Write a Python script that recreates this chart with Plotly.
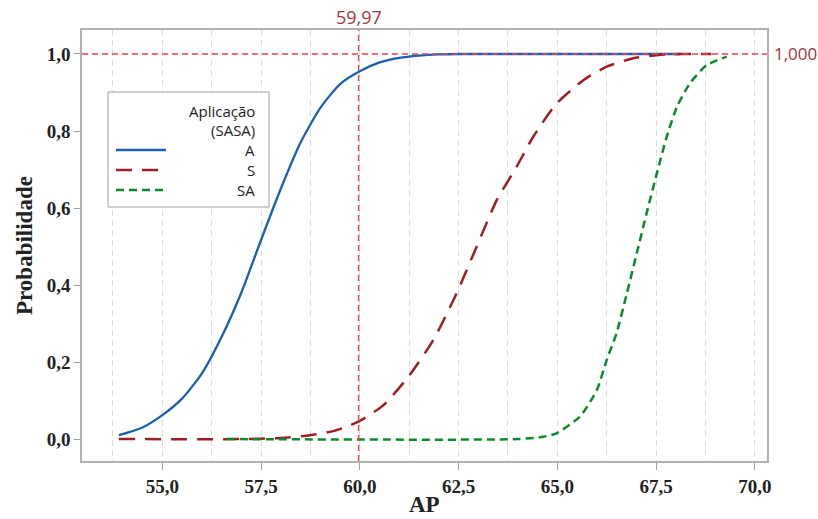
import plotly.graph_objects as go

# ---- data ----
a_x = [53.9, 54.5, 55.0, 55.5, 56.0, 56.5, 57.0, 57.5, 58.0, 58.5, 59.0, 59.5, 60.0, 60.5, 61.0, 61.5, 62.0, 62.5, 68.1]
a_y = [0.010, 0.030, 0.062, 0.105, 0.170, 0.265, 0.380, 0.517, 0.650, 0.770, 0.860, 0.922, 0.955, 0.978, 0.990, 0.996, 0.999, 1.000, 1.000]

s_x = [53.9, 57.0, 58.0, 58.74, 59.3, 59.67, 60.0, 60.6, 61.23, 61.86, 62.45, 62.96, 63.47, 63.97, 64.39, 64.98, 65.66, 66.25, 66.92, 67.52, 68.1, 68.9]
s_y = [0.000, 0.000, 0.003, 0.010, 0.020, 0.032, 0.047, 0.088, 0.162, 0.257, 0.378, 0.500, 0.621, 0.707, 0.785, 0.871, 0.932, 0.967, 0.989, 0.997, 1.000, 1.000]

sa_x = [56.63, 64.0, 64.65, 64.98, 65.57, 66.0, 66.25, 66.5, 66.76, 67.01, 67.26, 67.52, 67.77, 68.03, 68.36, 68.78, 69.29]
sa_y = [0.000, 0.000, 0.006, 0.015, 0.058, 0.127, 0.205, 0.275, 0.378, 0.482, 0.586, 0.690, 0.785, 0.863, 0.924, 0.971, 0.993]

series_names = ["A", "S", "SA"]
legend_title = ["Aplicação", "(SASA)"]
x_title = "AP"
y_title = "Probabilidade"
ref_x = 59.97
ref_y = 1.0
ref_x_label = "59,97"
ref_y_label = "1,000"
x_ticks = [55.0, 57.5, 60.0, 62.5, 65.0, 67.5, 70.0]
y_ticks = [0.0, 0.2, 0.4, 0.6, 0.8, 1.0]

blue = "#1a5fb4"
red = "#a01e22"
green = "#0b8a2c"
refc = "#e0474f"
labc = "#a8343a"

fig = go.Figure()
fig.add_trace(go.Scatter(x=a_x, y=a_y, mode="lines", name=series_names[0], showlegend=False,
                         line=dict(color=blue, width=2.3, shape="spline", smoothing=0.6)))
fig.add_trace(go.Scatter(x=s_x, y=s_y, mode="lines", name=series_names[1], showlegend=False,
                         line=dict(color=red, width=2.5, dash="16px,10px", shape="spline", smoothing=0.6)))
fig.add_trace(go.Scatter(x=sa_x, y=sa_y, mode="lines", name=series_names[2], showlegend=False,
                         line=dict(color=green, width=2.5, dash="8px,5px", shape="spline", smoothing=0.6)))

# reference lines
fig.add_shape(type="line", xref="x", yref="paper", x0=ref_x, x1=ref_x, y0=0, y1=1,
              line=dict(color=refc, width=1.5, dash="6px,4px"))
fig.add_shape(type="line", xref="paper", yref="y", x0=0, x1=1, y0=ref_y, y1=ref_y,
              line=dict(color=refc, width=1.5, dash="6px,4px"))
fig.add_annotation(x=ref_x, xref="x", y=1, yref="paper", yanchor="bottom", text=ref_x_label,
                   showarrow=False, font=dict(family="Open Sans", size=18, color=labc), yshift=-1)
fig.add_annotation(x=1, xref="paper", y=ref_y, yref="y", xanchor="left", text=ref_y_label,
                   showarrow=False, font=dict(family="Open Sans", size=17, color=labc), xshift=5)

# manual legend (paper coords)
W, H = 818, 519
ml, mr, mt, mb = 82, 51, 30, 58
pw, ph = W - ml - mr, H - mt - mb
def px(xp): return (xp - ml) / pw
def py(yp): return 1 - (yp - mt) / ph

fig.add_shape(type="rect", xref="paper", yref="paper", x0=px(108), x1=px(269), y0=py(207), y1=py(92),
              line=dict(color="#a0a0a0", width=1), fillcolor="white", layer="above")
leg_font = dict(family="Open Sans", size=15, color="#222222")
fig.add_annotation(xref="paper", yref="paper", x=px(257), y=py(111), xanchor="right", yanchor="middle",
                   text=legend_title[0], showarrow=False, font=leg_font)
fig.add_annotation(xref="paper", yref="paper", x=px(257), y=py(130), xanchor="right", yanchor="middle",
                   text=legend_title[1], showarrow=False, font=leg_font)
for i, (nm, col, dsh) in enumerate(zip(series_names, [blue, red, green], ["solid", "16px,10px", "8px,5px"])):
    yy = 150 + 20 * i
    fig.add_shape(type="line", xref="paper", yref="paper", x0=px(116), x1=px(166), y0=py(yy), y1=py(yy),
                  line=dict(color=col, width=2.5, dash=dsh), layer="above")
    fig.add_annotation(xref="paper", yref="paper", x=px(257), y=py(yy), xanchor="right", yanchor="middle",
                       text=nm, showarrow=False, font=leg_font)

tickfont = dict(family="Liberation Serif", size=19, color="#222222", weight="bold")
titlefont = dict(family="Liberation Serif", size=23, color="#222222", weight="bold")

# axis titles as annotations
fig.add_annotation(xref="paper", yref="paper", x=px(424), y=py(519), xanchor="center", yanchor="bottom",
                   text=x_title, showarrow=False, font=titlefont)
fig.add_annotation(xref="paper", yref="paper", x=px(24), y=py(246), xanchor="center", yanchor="middle",
                   text=y_title, textangle=-90, showarrow=False, font=titlefont)

fig.update_layout(
    width=W, height=H,
    margin=dict(l=ml, r=mr, t=mt, b=mb),
    paper_bgcolor="white", plot_bgcolor="white",
    separators=",.",
    xaxis=dict(range=[52.967, 70.309], tickvals=x_ticks, tickformat=".1f", automargin=False,
               ticks="outside", ticklen=7, tickcolor="#a0a0a0",
               showline=True, linecolor="#b0b0b0", linewidth=1.5, mirror=True,
               showgrid=True, gridcolor="#dadada", griddash="6px,4px", gridwidth=1,
               minor=dict(tick0=53.75, dtick=2.5, showgrid=True, gridcolor="#dadada", griddash="6px,4px", ticks=""),
               zeroline=False, tickfont=tickfont),
    yaxis=dict(range=[-0.057, 1.0623], tickvals=y_ticks, tickformat=".1f", automargin=False,
               ticks="outside", ticklen=6, tickcolor="#a0a0a0",
               showline=True, linecolor="#b0b0b0", linewidth=1.5, mirror=True,
               showgrid=False, zeroline=False, tickfont=tickfont),
)

fig.write_html("out.html")
